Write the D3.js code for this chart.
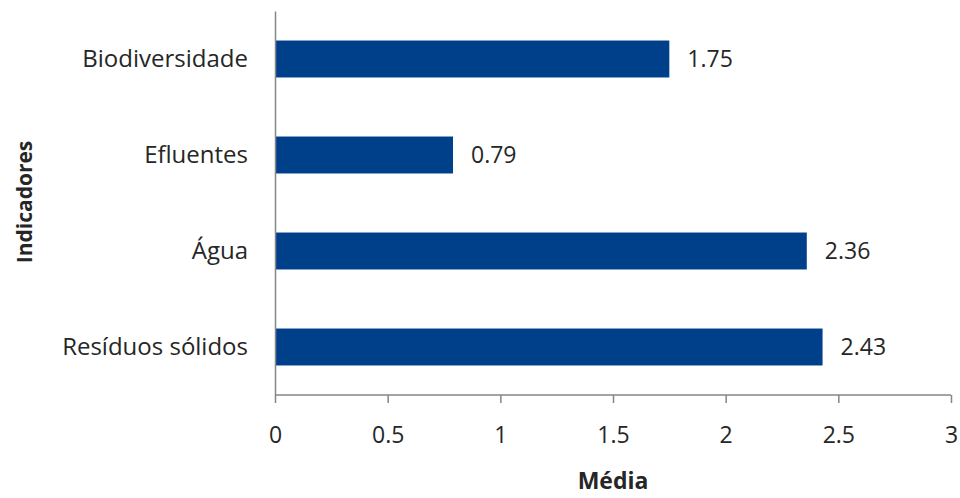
<!DOCTYPE html>
<html>
<head>
<meta charset="utf-8">
<script src="https://cdn.jsdelivr.net/npm/d3@7"></script>
<style>
  body { margin: 0; background: #fff; }
  text { font-family: "Open Sans", sans-serif; fill: #262626; }
</style>
</head>
<body>
<div id="chart"></div>
<script>
// data
var categories = ["Biodiversidade", "Efluentes", "Água", "Resíduos sólidos"];
var values = [1.75, 0.79, 2.36, 2.43];
var xTicks = [0, 0.5, 1, 1.5, 2, 2.5, 3];

var width = 960, height = 498;
var margin = {top: 11, right: 9, bottom: 103, left: 275};
var font = "'Open Sans', sans-serif";

var xScale = d3.scaleLinear()
    .domain([0, 3])
    .range([margin.left, width - margin.right]);

var yScale = d3.scaleBand()
    .domain(categories)
    .range([margin.top, height - margin.bottom])
    .paddingInner(0.615)
    .paddingOuter(0.3075);

var svg = d3.select("#chart").append("svg")
    .attr("width", width)
    .attr("height", height);

// bars
svg.append("g")
  .selectAll("rect")
    .data(values)
  .enter().append("rect")
    .attr("x", xScale(0))
    .attr("y", function(d, i) { return yScale(categories[i]); })
    .attr("width", function(d) { return xScale(d) - xScale(0); })
    .attr("height", yScale.bandwidth())
    .attr("fill", "#00408B");

// value labels
svg.append("g")
  .selectAll("text")
    .data(values)
  .enter().append("text")
    .attr("x", function(d) { return xScale(d) + 18; })
    .attr("y", function(d, i) { return yScale(categories[i]) + yScale.bandwidth() / 2; })
    .attr("dy", "0.35em")
    .style("font-size", "23px")
    .text(function(d) { return d.toFixed(2); });

// x axis
var xAxis = svg.append("g")
    .attr("transform", "translate(0," + (height - margin.bottom) + ")")
    .call(d3.axisBottom(xScale).tickValues(xTicks).tickSize(8).tickPadding(24)
      .tickFormat(function(d) { return String(d); }));
xAxis.select(".domain").attr("stroke", "#868686").attr("stroke-width", 1.5)
    .attr("d", "M" + xScale(0) + ",0H" + xScale(3));
xAxis.selectAll(".tick line").attr("stroke", "#868686").attr("stroke-width", 1.5);
xAxis.selectAll(".tick text").style("font-size", "23px").style("font-family", font).attr("fill", "#262626");

// y axis
var yAxis = svg.append("g")
    .attr("transform", "translate(" + margin.left + ",0)")
    .call(d3.axisLeft(yScale).tickSize(0).tickPadding(27));
yAxis.select(".domain").attr("stroke", "#868686").attr("stroke-width", 1.5);
yAxis.selectAll(".tick text").style("font-size", "24px").style("font-family", font).attr("fill", "#262626");

// axis titles
svg.append("text")
    .attr("x", 613)
    .attr("y", 489)
    .attr("text-anchor", "middle")
    .style("font-size", "23px")
    .style("font-weight", "bold")
    .text("Média");

svg.append("text")
    .attr("transform", "translate(32,202) rotate(-90)")
    .attr("text-anchor", "middle")
    .style("font-size", "21px")
    .style("font-weight", "bold")
    .text("Indicadores");
</script>
</body>
</html>
